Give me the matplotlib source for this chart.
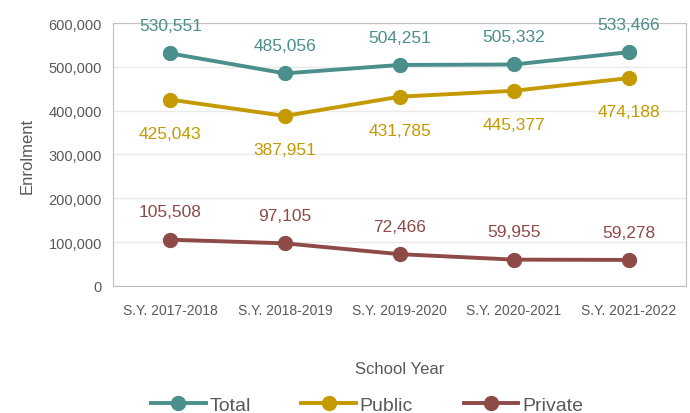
import matplotlib.pyplot as plt
from matplotlib.ticker import FuncFormatter
from matplotlib import font_manager

# data
years = ["S.Y. 2017-2018", "S.Y. 2018-2019", "S.Y. 2019-2020", "S.Y. 2020-2021", "S.Y. 2021-2022"]
total = [530551, 485056, 504251, 505332, 533466]
public = [425043, 387951, 431785, 445377, 474188]
private = [105508, 97105, 72466, 59955, 59278]

names = [f.name for f in font_manager.fontManager.ttflist]
fam = "Liberation Sans Narrow" if "Liberation Sans Narrow" in names else "Liberation Sans"
plt.rcParams["font.family"] = [fam, "DejaVu Sans"]

c_total = "#4A8F8C"
c_public = "#C49A00"
c_private = "#8E4A47"
grey = "#595959"

fig = plt.figure(figsize=(6.9, 4.14), dpi=100)
ax = fig.add_axes([0.164, 0.307, 0.830, 0.635])

x = range(len(years))
series = [
    ("Total", total, c_total, 20),
    ("Public", public, c_public, -24),
    ("Private", private, c_private, 20),
]
for name, vals, col, off in series:
    ax.plot(x, vals, color=col, lw=2.8, marker="o", ms=10, label=name)
    for xi, v in zip(x, vals):
        ax.annotate(f"{v:,}", (xi, v), xytext=(0, off), textcoords="offset points",
                    ha="center", va="center", color=col, fontsize=12.5)

ax.set_ylim(0, 600000)
ax.set_xlim(-0.5, len(years) - 0.5)
ax.set_yticks(range(0, 600001, 100000))
ax.yaxis.set_major_formatter(FuncFormatter(lambda v, p: f"{int(v):,}"))
ax.set_xticks(list(x))
ax.set_xticklabels(years)
ax.tick_params(length=0, labelsize=10.5, colors=grey, pad=8)
ax.tick_params(axis="x", labelsize=10, pad=12)
ax.grid(axis="y", color="#EAEAEA", lw=1)
ax.set_axisbelow(True)
for s in ax.spines.values():
    s.set_color("#BFBFBF")

ax.set_xlabel("School Year", fontsize=12, color=grey, labelpad=32)
ax.set_ylabel("Enrolment", fontsize=12, color=grey, labelpad=10)

leg = fig.legend(loc="lower center", bbox_to_anchor=(0.532, -0.045), ncol=3, frameon=False,
                 fontsize=14, handlelength=2.8, columnspacing=2.6, handletextpad=0.2)
for t in leg.get_texts():
    t.set_color(grey)

plt.savefig("out.png", dpi=100)
